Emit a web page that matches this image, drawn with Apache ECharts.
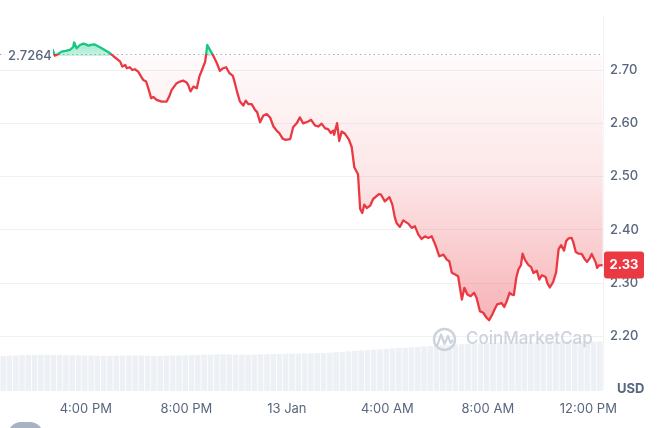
<!DOCTYPE html>
<html>
<head>
<meta charset="utf-8">
<script src="https://cdn.jsdelivr.net/npm/echarts@6/dist/echarts.min.js"></script>
<style>
  html, body { margin: 0; padding: 0; background: #fff; }
  #chart { width: 672px; height: 428px; }
</style>
</head>
<body>
<div id="chart"></div>
<script>
// ---- data ----
const BASE_PRICE = 2.7264;
const RANGE_START = '12 12:35';
const RANGE_END = '13 12:35';
const yTicks = [2.20, 2.30, 2.40, 2.50, 2.60, 2.70];

const times = [
  '12 14:40','12 14:46','12 14:54','12 15:02','12 15:12','12 15:22','12 15:30','12 15:32','12 15:38','12 15:46',
  '12 15:54','12 16:00','12 16:06','12 16:12','12 16:20','12 16:28','12 16:38','12 16:46','12 16:58','12 17:06',
  '12 17:14','12 17:22','12 17:27','12 17:34','12 17:38','12 17:45','12 17:51','12 17:57','12 18:05','12 18:12',
  '12 18:17','12 18:24','12 18:29','12 18:36','12 18:41','12 18:49','12 19:01','12 19:13','12 19:19','12 19:25',
  '12 19:29','12 19:37','12 19:45','12 19:52','12 20:01','12 20:05','12 20:10','12 20:17','12 20:25','12 20:31',
  '12 20:39','12 20:45','12 20:50','12 20:58','12 21:04','12 21:13','12 21:20','12 21:28','12 21:35','12 21:43',
  '12 21:51','12 21:56','12 22:02','12 22:08','12 22:16','12 22:22','12 22:28','12 22:36','12 22:44','12 22:49',
  '12 22:56','12 23:04','12 23:12','12 23:20','12 23:28','12 23:36','12 23:42','12 23:50','12 23:56','13 00:08',
  '13 00:15','13 00:24','13 00:31','13 00:39','13 00:51','13 00:58','13 01:07','13 01:15','13 01:23','13 01:31',
  '13 01:39','13 01:45','13 01:51','13 01:53','13 02:00','13 02:05','13 02:11','13 02:19','13 02:28','13 02:35',
  '13 02:41','13 02:50','13 02:55','13 03:00','13 03:05','13 03:11','13 03:19','13 03:26','13 03:40','13 03:45',
  '13 03:54','13 04:05','13 04:12','13 04:18','13 04:22','13 04:30','13 04:38','13 04:50','13 04:58','13 05:06',
  '13 05:14','13 05:22','13 05:30','13 05:38','13 05:46','13 05:56','13 06:04','13 06:14','13 06:22','13 06:28',
  '13 06:34','13 06:42','13 06:49','13 06:58','13 07:04','13 07:11','13 07:19','13 07:27','13 07:33','13 07:41',
  '13 07:49','13 07:57','13 08:03','13 08:10','13 08:16','13 08:22','13 08:33','13 08:39','13 08:45','13 08:52',
  '13 08:57','13 09:02','13 09:08','13 09:13','13 09:19','13 09:23','13 09:29','13 09:37','13 09:43','13 09:49',
  '13 09:57','13 10:03','13 10:09','13 10:18','13 10:22','13 10:28','13 10:36','13 10:43','13 10:49','13 10:55',
  '13 11:02','13 11:07','13 11:13','13 11:20','13 11:24','13 11:30','13 11:36','13 11:44','13 11:52','13 11:57',
  '13 12:04','13 12:08','13 12:12','13 12:18','13 12:21','13 12:26','13 12:34'
];

const prices = [
  2.7394,2.7268,2.7300,2.7343,2.7356,2.7375,2.7431,2.7519,2.7407,2.7469,
  2.7493,2.7482,2.7456,2.7469,2.7482,2.7450,2.7407,2.7369,2.7313,2.7257,
  2.7206,2.7156,2.7062,2.7094,2.7032,2.7051,2.7000,2.7013,2.6968,2.6874,
  2.6812,2.6781,2.6657,2.6469,2.6494,2.6437,2.6406,2.6406,2.6499,2.6625,
  2.6662,2.6751,2.6781,2.6799,2.6762,2.6706,2.6597,2.6687,2.6657,2.6874,
  2.7032,2.7156,2.7469,2.7353,2.7272,2.7126,2.6981,2.7032,2.7051,2.6938,
  2.6887,2.6751,2.6563,2.6406,2.6331,2.6424,2.6357,2.6357,2.6250,2.6207,
  2.6019,2.6143,2.6169,2.6106,2.5937,2.5856,2.5813,2.5710,2.5687,2.5701,
  2.5922,2.6001,2.6109,2.5997,2.6031,2.6062,2.5959,2.5937,2.5991,2.5907,
  2.5884,2.5813,2.5862,2.5781,2.6001,2.5665,2.5843,2.5800,2.5697,2.5547,
  2.5172,2.5041,2.4394,2.4313,2.4469,2.4407,2.4450,2.4575,2.4666,2.4656,
  2.4530,2.4609,2.4469,2.4225,2.4125,2.4050,2.4174,2.4112,2.4032,2.4062,
  2.3906,2.3825,2.3874,2.3844,2.3874,2.3687,2.3499,2.3531,2.3437,2.3405,
  2.3188,2.3156,2.3124,2.2687,2.2907,2.2781,2.2749,2.2813,2.2719,2.2469,
  2.2438,2.2344,2.2299,2.2397,2.2500,2.2594,2.2618,2.2547,2.2650,2.2813,
  2.2781,2.2768,2.3100,2.3250,2.3334,2.3550,2.3428,2.3334,2.3300,2.3184,
  2.3226,2.3062,2.3143,2.3109,2.3000,2.2912,2.3016,2.3198,2.3634,2.3709,
  2.3606,2.3784,2.3837,2.3844,2.3765,2.3578,2.3550,2.3544,2.3437,2.3394,
  2.3469,2.3544,2.3512,2.3375,2.3281,2.3330,2.3333
];

// volume (relative units), 96 buckets of 15 minutes
const volumes = [
  57.5,57.8,58.2,58.6,58.9,59.0,
  59.2,59.3,59.1,59.0,58.8,58.6,58.4,58.2,
  58.1,57.9,57.8,57.7,57.9,58.0,58.2,58.3,58.1,57.9,57.7,57.6,57.8,58.0,58.3,58.6,58.9,59.2,
  59.5,59.8,60.0,60.1,60.0,59.8,59.6,59.5,59.7,
  60.0,60.3,60.5,60.8,61.0,61.2,61.3,61.5,61.8,62.0,62.4,62.9,
  63.5,64.2,65.0,65.8,66.5,67.2,67.9,68.5,69.2,69.8,70.4,71.0,
  71.6,72.2,72.9,73.6,74.3,75.0,75.6,76.2,76.8,77.3,77.8,78.2,
  78.6,79.0,79.3,79.6,79.9,80.2,80.4,80.6,80.8,81.0,81.1,81.2,81.3,81.3,81.2,81.2,81.1,81.0,80.9
];

// ---- helpers ----
function parseT(s) {
  const [d, hm] = s.split(' ');
  const [h, m] = hm.split(':').map(Number);
  return new Date(2025, 0, Number(d), h, m).getTime();
}
const RED = '#ea3943', GREEN = '#16c784', TXT = '#58667e', FONT = 'Inter, Roboto, sans-serif';
const baseData = times.map(t => [parseT(t), BASE_PRICE]);
const diffData = times.map((t, i) => [parseT(t), prices[i] - BASE_PRICE]);
const maxV = Math.max(...prices), minV = Math.min(...prices);
const tBase = (maxV - BASE_PRICE) / (maxV - minV);
const lastPrice = prices[prices.length - 1];

function fmtTime(val) {
  const d = new Date(val);
  const h = d.getHours(), m = d.getMinutes();
  if (h === 0 && m === 0) return d.getDate() + ' Jan';
  const hh = h % 12 === 0 ? 12 : h % 12;
  return hh + ':' + String(m).padStart(2, '0') + ' ' + (h < 12 ? 'AM' : 'PM');
}

const lineGradient = {
  type: 'linear', x: 0, y: 0, x2: 0, y2: 1,
  colorStops: [
    { offset: 0, color: GREEN },
    { offset: tBase, color: GREEN },
    { offset: tBase, color: RED },
    { offset: 1, color: RED }
  ]
};
const areaGradient = {
  type: 'linear', x: 0, y: 0, x2: 0, y2: 1,
  colorStops: [
    { offset: 0, color: 'rgba(22,199,132,0.40)' },
    { offset: tBase, color: 'rgba(22,199,132,0.24)' },
    { offset: tBase, color: 'rgba(234,57,67,0.025)' },
    { offset: tBase + (1 - tBase) * 0.45, color: 'rgba(234,57,67,0.12)' },
    { offset: 1, color: 'rgba(234,57,67,0.38)' }
  ]
};

const chart = echarts.init(document.getElementById('chart'), null, { renderer: 'canvas' });

const option = {
  animation: false,
  backgroundColor: '#fff',
  textStyle: { fontFamily: FONT },
  grid: [
    { left: 0, right: 69, top: 16.7, bottom: 38.7 },
    { left: 0, right: 69, top: 330, bottom: 37 }
  ],
  xAxis: [
    {
      type: 'time', gridIndex: 0,
      min: parseT(RANGE_START), max: parseT(RANGE_END),
      minInterval: 4 * 3600 * 1000, maxInterval: 4 * 3600 * 1000,
      axisLine: { show: false }, axisTick: { show: false }, splitLine: { show: false },
      axisLabel: {
        color: TXT, fontSize: 13, fontFamily: FONT, margin: 13,
        showMinLabel: false, showMaxLabel: false, hideOverlap: false,
        formatter: fmtTime
      }
    },
    {
      type: 'category', gridIndex: 1, data: volumes.map((_, i) => i), show: false
    }
  ],
  yAxis: [
    {
      type: 'value', gridIndex: 0, position: 'right',
      min: 2.1, max: 2.8, interval: 0.1,
      axisLine: { show: true, lineStyle: { color: '#f1f3f6' } },
      axisTick: { show: false },
      splitLine: { show: true, showMinLine: false, showMaxLine: false, lineStyle: { color: '#eff2f5', width: 1 } },
      axisLabel: {
        color: TXT, fontSize: 13, fontWeight: 500, fontFamily: FONT, margin: 7,
        formatter: function (v) {
          if (Math.abs(v - 2.1) < 1e-6) return '{u|USD}';
          if (yTicks.some(t => Math.abs(t - v) < 1e-6)) return v.toFixed(2);
          return '';
        },
        rich: { u: { color: TXT, fontSize: 13, fontWeight: 'bold', fontFamily: FONT, padding: [0, 0, 0, 7] } }
      }
    },
    { type: 'value', gridIndex: 1, min: 0, max: 100, show: false }
  ],
  series: [
    {
      name: 'base', type: 'line', xAxisIndex: 0, yAxisIndex: 0,
      data: baseData, stack: 'p', stackStrategy: 'all',
      showSymbol: false, silent: true, z: 3,
      lineStyle: { width: 0, opacity: 0 },
      markLine: {
        silent: true, symbol: 'none', animation: false,
        label: { show: false },
        lineStyle: { color: '#a6b0c3', type: [1.5, 3], width: 1.2, opacity: 1 },
        data: [{ yAxis: BASE_PRICE }]
      }
    },
    {
      name: 'price', type: 'line', xAxisIndex: 0, yAxisIndex: 0,
      data: diffData, stack: 'p', stackStrategy: 'all',
      showSymbol: false, z: 5,
      lineStyle: { width: 2.3, color: lineGradient, join: 'round' },
      areaStyle: { opacity: 1, color: areaGradient }
    },
    {
      type: 'bar', xAxisIndex: 1, yAxisIndex: 1,
      data: volumes, barCategoryGap: '12%', z: 1,
      itemStyle: { color: '#edf0f4' }, silent: true
    }
  ]
};
chart.setOption(option);

const yb = chart.convertToPixel({ yAxisIndex: 0 }, BASE_PRICE);
const yl = chart.convertToPixel({ yAxisIndex: 0 }, lastPrice);

chart.setOption({
  graphic: [
    // watermark
    { type: 'circle', shape: { cx: 444.5, cy: 339.5, r: 10.5 }, style: { fill: 'none', stroke: '#cdd3dc', lineWidth: 2.4 }, z: 2 },
    { type: 'polyline', shape: { points: [[437.5, 345], [441, 334.5], [444.5, 344], [448, 336], [450.5, 343], [452.5, 340.5]] }, style: { fill: 'none', stroke: '#cdd3dc', lineWidth: 2.2, lineJoin: 'round', lineCap: 'round' }, z: 2 },
    { type: 'text', left: 466, top: 330, style: { text: 'CoinMarketCap', fill: '#cdd3dc', font: '500 17px ' + FONT }, z: 2 },
    // baseline label
    { type: 'rect', shape: { x: 5, y: yb - 10, width: 48, height: 20 }, style: { fill: '#fff' }, z: 20 },
    { type: 'text', x: 8, y: yb, style: { text: BASE_PRICE.toFixed(4), fill: TXT, font: '500 13px ' + FONT, verticalAlign: 'middle', textAlign: 'left' }, z: 21 },
    // last price tag
    { type: 'rect', shape: { x: 604, y: yl - 13.5, width: 40, height: 27, r: 3 }, style: { fill: RED }, z: 20 },
    { type: 'text', x: 624, y: yl, style: { text: lastPrice.toFixed(2), fill: '#fff', font: 'bold 13px ' + FONT, textAlign: 'center', verticalAlign: 'middle' }, z: 21 },
    // bottom-left button (partially visible)
    { type: 'rect', shape: { x: 8, y: 422, width: 35, height: 26, r: 13 }, style: { fill: '#a9b2c3' }, z: 20 }
  ]
});
</script>
</body>
</html>
